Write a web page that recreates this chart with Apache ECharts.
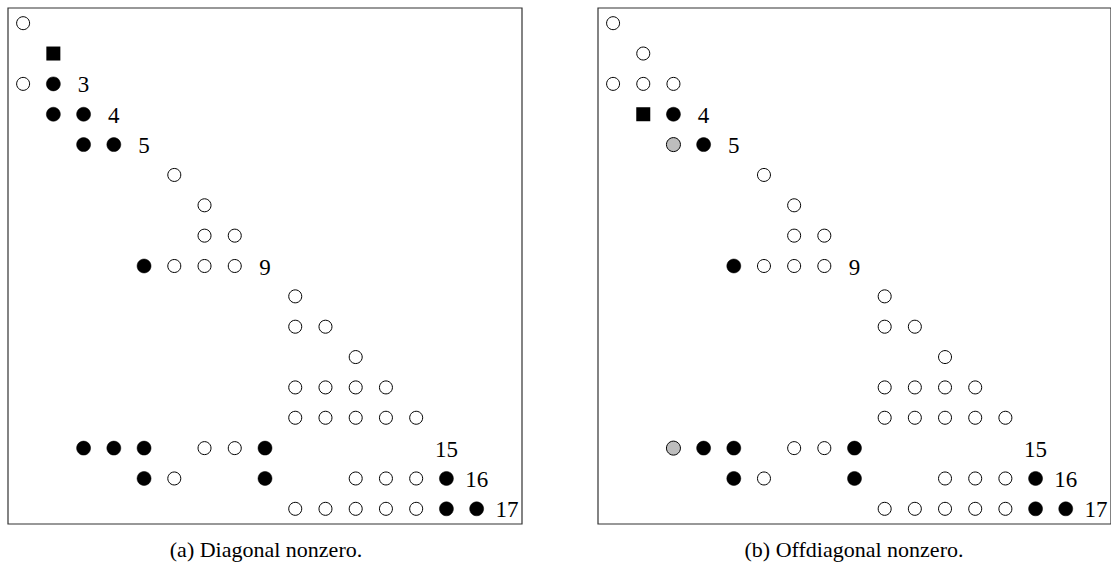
<!DOCTYPE html>
<html>
<head>
<meta charset="utf-8">
<script src="https://cdn.jsdelivr.net/npm/echarts@6/dist/echarts.min.js"></script>
<style>
  html, body { margin: 0; padding: 0; background: #fff; }
  #chart { width: 1111px; height: 562px; }
</style>
</head>
<body>
<div id="chart"></div>
<script>
// Sparsity patterns of a 17x17 matrix, entries given as [row, column].
var N = 17;

// (a) Diagonal nonzero
var aOpen = [
  [1, 1], [3, 1], [6, 6], [7, 7], [8, 7], [8, 8], [9, 6], [9, 7], [9, 8],
  [10, 10], [11, 10], [11, 11], [12, 12],
  [13, 10], [13, 11], [13, 12], [13, 13],
  [14, 10], [14, 11], [14, 12], [14, 13], [14, 14],
  [15, 7], [15, 8], [16, 6], [16, 12], [16, 13], [16, 14],
  [17, 10], [17, 11], [17, 12], [17, 13], [17, 14]
];
var aFilled = [
  [3, 2], [4, 2], [4, 3], [5, 3], [5, 4], [9, 5],
  [15, 3], [15, 4], [15, 5], [15, 9],
  [16, 5], [16, 9], [16, 15], [17, 15], [17, 16]
];
var aGray = [];
var aSquare = [[2, 2]];
var aLabels = [[3, 3, '3'], [4, 4, '4'], [5, 5, '5'], [9, 9, '9'], [15, 15, '15'], [16, 16, '16'], [17, 17, '17']];

// (b) Offdiagonal nonzero
var bOpen = [
  [1, 1], [2, 2], [3, 1], [3, 2], [3, 3],
  [6, 6], [7, 7], [8, 7], [8, 8], [9, 6], [9, 7], [9, 8],
  [10, 10], [11, 10], [11, 11], [12, 12],
  [13, 10], [13, 11], [13, 12], [13, 13],
  [14, 10], [14, 11], [14, 12], [14, 13], [14, 14],
  [15, 7], [15, 8], [16, 6], [16, 12], [16, 13], [16, 14],
  [17, 10], [17, 11], [17, 12], [17, 13], [17, 14]
];
var bFilled = [
  [4, 3], [5, 4], [9, 5],
  [15, 4], [15, 5], [15, 9],
  [16, 5], [16, 9], [16, 15], [17, 15], [17, 16]
];
var bGray = [[5, 3], [15, 3]];
var bSquare = [[4, 2]];
var bLabels = [[4, 4, '4'], [5, 5, '5'], [9, 9, '9'], [15, 15, '15'], [16, 16, '16'], [17, 17, '17']];

var captions = ['(a) Diagonal nonzero.', '(b) Offdiagonal nonzero.'];

var SERIF = '"Liberation Serif", "DejaVu Serif", serif';

function pts(list) {
  return list.map(function (e) { return [e[1], e[0]]; });
}

function panelSeries(idx, open, filled, gray, square, labels) {
  var base = { type: 'scatter', xAxisIndex: idx, yAxisIndex: idx, silent: true, animation: false };
  return [
    Object.assign({}, base, {
      data: pts(open), symbol: 'circle', symbolSize: 13,
      itemStyle: { color: '#fff', borderColor: '#000', borderWidth: 1, opacity: 1 }
    }),
    Object.assign({}, base, {
      data: pts(filled), symbol: 'circle', symbolSize: 14,
      itemStyle: { color: '#000', borderColor: '#000', borderWidth: 0.5, opacity: 1 }
    }),
    Object.assign({}, base, {
      data: pts(gray), symbol: 'circle', symbolSize: 14,
      itemStyle: { color: '#bdbdbd', borderColor: '#000', borderWidth: 1, opacity: 1 }
    }),
    Object.assign({}, base, {
      data: pts(square), symbol: 'rect', symbolSize: 14,
      itemStyle: { color: '#000', opacity: 1 }
    }),
    Object.assign({}, base, {
      data: labels.map(function (e) { return { value: [e[1], e[0]], name: e[2] }; }),
      symbolSize: 0,
      itemStyle: { opacity: 1 },
      label: {
        show: true, position: 'inside', formatter: '{b}', opacity: 1,
        color: '#000', fontFamily: SERIF, fontSize: 23, offset: [0, 1]
      }
    })
  ];
}

function axesFor(idx) {
  return {
    x: { type: 'value', gridIndex: idx, min: 0.5, max: N + 0.5, show: false },
    y: { type: 'value', gridIndex: idx, min: 0.5, max: N + 0.5, inverse: true, show: false }
  };
}

var ax0 = axesFor(0), ax1 = axesFor(1);

var chart = echarts.init(document.getElementById('chart'), null, { renderer: 'svg' });
chart.setOption({
  backgroundColor: '#fff',
  animation: false,
  grid: [
    { left: 8, top: 8, width: 514, height: 516, show: true, borderColor: '#333', borderWidth: 1.2, backgroundColor: 'transparent' },
    { left: 598, top: 8, width: 514, height: 516, show: true, borderColor: '#333', borderWidth: 1.2, backgroundColor: 'transparent' }
  ],
  xAxis: [ax0.x, ax1.x],
  yAxis: [ax0.y, ax1.y],
  title: [
    { text: captions[0], left: 261, top: 533, textAlign: 'center',
      textStyle: { fontFamily: SERIF, fontSize: 22, fontWeight: 'normal', color: '#000' } },
    { text: captions[1], left: 849, top: 533, textAlign: 'center',
      textStyle: { fontFamily: SERIF, fontSize: 22, fontWeight: 'normal', color: '#000' } }
  ],
  series: [].concat(
    panelSeries(0, aOpen, aFilled, aGray, aSquare, aLabels),
    panelSeries(1, bOpen, bFilled, bGray, bSquare, bLabels)
  )
});
</script>
</body>
</html>
